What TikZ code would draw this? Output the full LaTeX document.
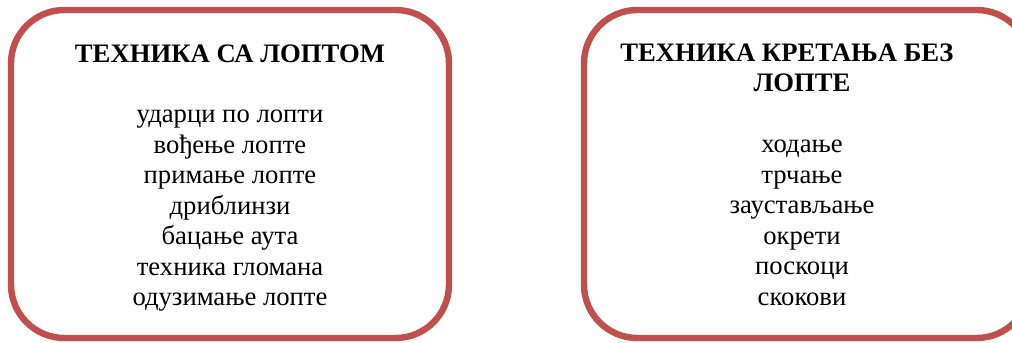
\documentclass[tikz,border=0pt]{standalone}
\usepackage{fontspec}
\setmainfont{Liberation Serif}
\usetikzlibrary{positioning}
\definecolor{Frame}{HTML}{C0504D}

\begin{document}
\begin{tikzpicture}[x=0.45pt,y=-0.45pt,
  frame/.style={draw=Frame,line width=2.9pt,rounded corners=24pt},
  head/.style={inner sep=0pt,anchor=base,font=\fontsize{12}{13.8}\selectfont\bfseries},
  item/.style={inner sep=0pt,anchor=base,font=\fontsize{12}{13.8}\selectfont}]
\useasboundingbox (0,0) rectangle (1012,343);
\clip (0,0) rectangle (1012,343);
% left box: with the ball
\draw[frame] (11,10) rectangle (449,338);
\node[head] (lt) at (230,63) {ТЕХНИКА СА ЛОПТОМ};
\foreach \t [count=\i from 0] in {ударци по лопти,вођење лопте,примање лопте,дриблинзи,бацање аута,техника гломана,одузимање лопте}
  \node[item] (l\i) at (230,123+30.5*\i) {\t};
% right box: moving without the ball
\draw[frame] (584,10) rectangle (1030,338);
\node[head] (rt) at (787,62) {ТЕХНИКА КРЕТАЊА БЕЗ};
\node[head] (rt2) at (802,92) {ЛОПТЕ};
\foreach \t [count=\i from 0] in {ходање,трчање,заустављање,окрети,поскоци,скокови}
  \node[item] (r\i) at (802,153+30.5*\i) {\t};
\end{tikzpicture}
\end{document}
